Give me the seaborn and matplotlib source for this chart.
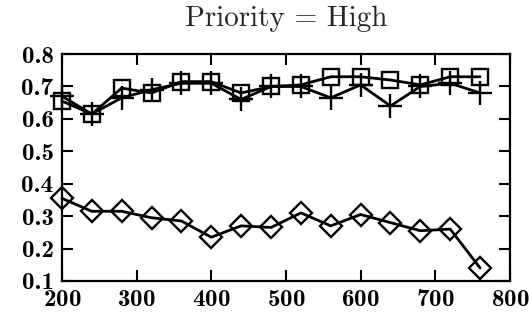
import matplotlib
matplotlib.use("Agg")
import matplotlib.pyplot as plt
import seaborn as sns
import pandas as pd

# values
sizes = [200, 240, 280, 320, 360, 400, 440, 480, 520, 560, 600, 640, 680, 720, 760]
square_vals = [0.655, 0.615, 0.695, 0.68, 0.715, 0.715, 0.68, 0.70, 0.705, 0.73, 0.73, 0.72, 0.705, 0.73, 0.73]
plus_vals = [0.67, 0.615, 0.665, 0.69, 0.71, 0.71, 0.66, 0.70, 0.70, 0.665, 0.705, 0.64, 0.70, 0.71, 0.68]
diamond_vals = [0.355, 0.315, 0.315, 0.295, 0.285, 0.235, 0.27, 0.265, 0.31, 0.27, 0.305, 0.28, 0.255, 0.26, 0.14]
series = ["square", "plus", "diamond"]

df = pd.concat([
    pd.DataFrame({"x": sizes, "y": vals, "series": name})
    for name, vals in zip(series, [square_vals, plus_vals, diamond_vals])
])

sns.set_style("ticks")
plt.rcParams["font.family"] = ["cmb10", "DejaVu Serif"]
plt.rcParams["axes.formatter.use_mathtext"] = True

fig = plt.figure(figsize=(5.29, 3.2), dpi=100)
ax = fig.add_axes([0.117, 0.122, 0.847, 0.709])

sns.lineplot(data=df, x="x", y="y", style="series", hue="series",
             palette=["black"] * 3, markers={"square": "s", "plus": "P", "diamond": "D"},
             dashes=False, legend=False, ax=ax, linewidth=2.0)
# redraw marker styles: hollow square/diamond, thin plus
for line, m in zip(ax.get_lines(), ["s", "+", "D"]):
    line.set_marker(m)
    line.set_markerfacecolor("none")
    line.set_markeredgecolor("black")
    line.set_markeredgewidth(1.7)
    line.set_markersize({"s": 12, "+": 17, "D": 11}[m])
    line.set_clip_on(False)

ax.set_xlim(200, 800)
ax.set_ylim(0.1, 0.8)
ax.set_xticks(range(200, 801, 100))
ax.set_yticks([0.1, 0.2, 0.3, 0.4, 0.5, 0.6, 0.7, 0.8])
ax.set_yticklabels(["0.1", "0.2", "0.3", "0.4", "0.5", "0.6", "0.7", "0.8"])
ax.tick_params(direction="in", length=8, width=1.5, top=True, right=True,
               labelsize=18, pad=6, colors="black")
for s in ax.spines.values():
    s.set_linewidth(1.6)
    s.set_color("black")
ax.set_xlabel("")
ax.set_ylabel("")
ax.set_title("Priority = High", fontsize=21, pad=20, family=["cmr10", "DejaVu Serif"])

fig.savefig("out.png", dpi=100)
